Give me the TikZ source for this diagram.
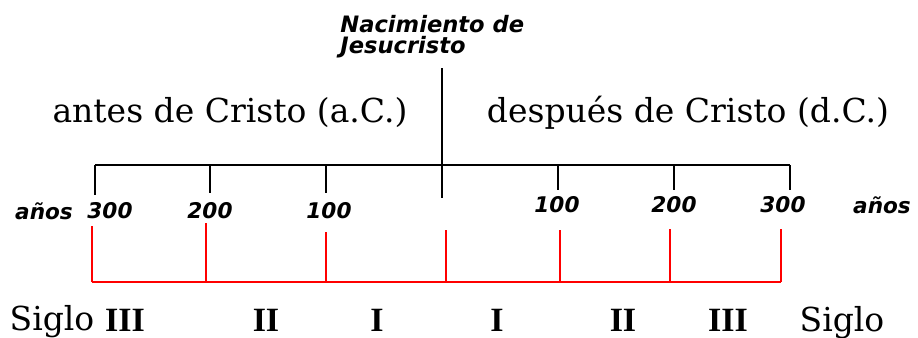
\documentclass[tikz,border=0pt]{standalone}
\usepackage{fontspec}
\setmainfont{DejaVu Serif}
\newfontfamily\yearfont{DejaVu Sans}
\newfontfamily\romfont{Liberation Serif}
\usetikzlibrary{positioning}

\begin{document}
\begin{tikzpicture}[x=0.5pt,y=-0.5pt,
  era/.style={
    inner sep=0pt,
    font=\fontsize{16.5}{16.5}\selectfont
  },
  year/.style={
    inner sep=0pt,
    font=\yearfont\bfseries\itshape\fontsize{10.8}{10.8}\selectfont
  },
  cent/.style={
    inner sep=0pt,
    font=\romfont\bfseries\fontsize{17}{17}\selectfont
  },
  tick/.style={draw=black,line width=0.7pt},
  redline/.style={draw=red,line width=0.7pt}]
  \useasboundingbox (0,0) rectangle (918,338);

  % birth of Christ
  \node[year,anchor=west,align=left,font=\yearfont\bfseries\itshape\fontsize{11.3}{10.5}\selectfont] (nac) at (340,37)
    {Nacimiento de\\Jesucristo};
  \coordinate (ztop) at (442,68);
  \coordinate (zero) at (442,198);
  \draw[tick] (ztop) -- (zero);

  \node[era] (ac) at (230,113) {antes de Cristo (a.C.)};
  \node[era] (dc) at (688,113) {después de Cristo (d.C.)};

  % black scale
  \foreach \n/\x in {l3/95,l2/210,l1/326,r1/558,r2/674,r3/790}
    \coordinate (t\n) at (\x,165);
  \draw[tick] (tl3) -- (tr3);
  \foreach \n/\l in {l3/30,l2/28,l1/28,r1/25,r2/25,r3/25}
    \draw[tick] (t\n) -- ++(0,\l);

  \node[year] (al) at (44,211) {años};
  \node[year] (yl3) at (110,211) {300};
  \node[year] (yl2) at (210,211) {200};
  \node[year] (yl1) at (329,211) {100};
  \node[year] (yr1) at (557,205) {100};
  \node[year] (yr2) at (674,205) {200};
  \node[year] (yr3) at (783,205) {300};
  \node[year] (ar) at (882,205) {años};

  % red centuries
  \foreach \n/\x/\y in {l3/92/226,l2/206/223,l1/326/232,c/446/230,r1/560/230,r2/670/229,r3/781/229}
  {
    \coordinate (b\n) at (\x,282);
    \draw[redline] (b\n) -- (\x,\y);
  }
  \draw[redline] (bl3) -- (br3);

  \node[cent] (sl3) at (125,320) {III};
  \node[cent] (sl2) at (266,320) {II};
  \node[cent] (sl1) at (377,320) {I};
  \node[cent] (sr1) at (497,320) {I};
  \node[cent] (sr2) at (623,320) {II};
  \node[cent] (sr3) at (728,320) {III};
  \node[era] (sigl) at (52,322) {Siglo};
  \node[era] (sigr) at (842,323) {Siglo};
\end{tikzpicture}
\end{document}
